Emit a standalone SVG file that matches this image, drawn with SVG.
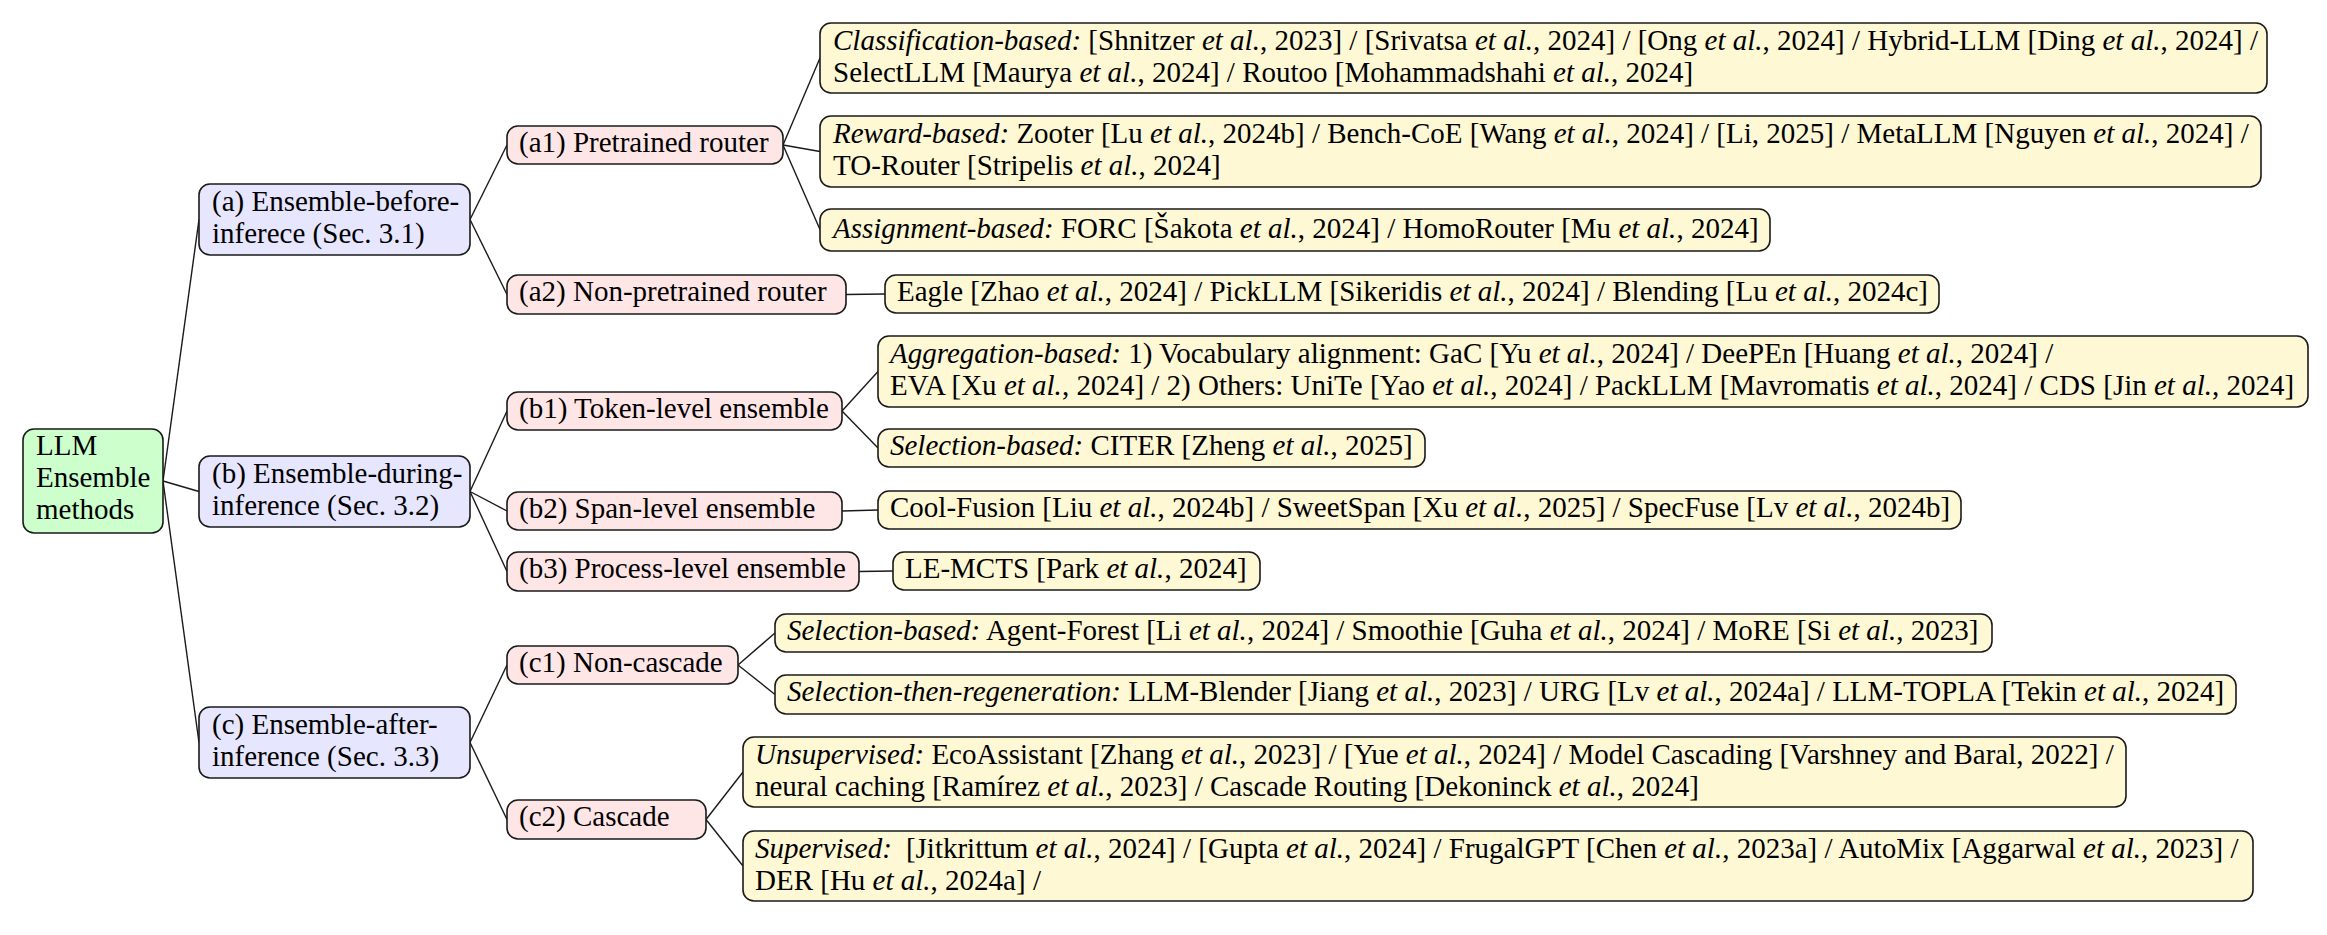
<svg xmlns="http://www.w3.org/2000/svg" width="2327" height="935" viewBox="0 0 2327 935">
  <style>
    text { font-family: "Liberation Serif", "Times New Roman", serif; font-size: 29px; fill: #000; }
    .i { font-style: italic; }
    .box { stroke: #1a1a1a; stroke-width: 1.6; }
    .root { fill: #ccffcc; }
    .cat { fill: #e6e6ff; }
    .sub { fill: #ffe6e6; }
    .leaf { fill: #fff8d5; }
    .edge { fill: none; stroke: #1a1a1a; stroke-width: 1.4; }
  </style>

  <!-- tree edges: parent east anchor to child west anchor -->
  <g id="connectors">
    <path class="edge" d="M163,481 L199,219.5"/>
    <path class="edge" d="M163,481 L199,491.5"/>
    <path class="edge" d="M163,481 L199,742.5"/>
    <path class="edge" d="M470,219.5 L507,145"/>
    <path class="edge" d="M470,219.5 L507,294.5"/>
    <path class="edge" d="M783,145 L820,58"/>
    <path class="edge" d="M783,145 L820,151.5"/>
    <path class="edge" d="M783,145 L820,229.5"/>
    <path class="edge" d="M846,294.5 L885,294"/>
    <path class="edge" d="M470,491.5 L507,411"/>
    <path class="edge" d="M470,491.5 L507,511"/>
    <path class="edge" d="M470,491.5 L507,571.5"/>
    <path class="edge" d="M842,411 L878,371.5"/>
    <path class="edge" d="M842,411 L878,448"/>
    <path class="edge" d="M842,511 L878,510"/>
    <path class="edge" d="M859,571.5 L893,571"/>
    <path class="edge" d="M470,742.5 L507,665"/>
    <path class="edge" d="M470,742.5 L507,819.5"/>
    <path class="edge" d="M738,665 L775,633"/>
    <path class="edge" d="M738,665 L775,694.5"/>
    <path class="edge" d="M706,819.5 L743,772"/>
    <path class="edge" d="M706,819.5 L743,866"/>
  </g>

  <!-- root -->
  <g id="root">
    <rect class="box root" x="23" y="429" width="140" height="104" rx="11"/>
    <text x="36" y="455">LLM</text>
    <text x="36" y="487">Ensemble</text>
    <text x="36" y="519">methods</text>
  </g>

  <!-- first level -->
  <g id="node-a">
    <rect class="box cat" x="199" y="184" width="271" height="71" rx="11"/>
    <text x="212" y="211">(a) Ensemble-before-</text>
    <text x="212" y="243">inferece (Sec. 3.1)</text>
  </g>
  <g id="node-b">
    <rect class="box cat" x="199" y="456" width="271" height="71" rx="11"/>
    <text x="212" y="483">(b) Ensemble-during-</text>
    <text x="212" y="515">inference (Sec. 3.2)</text>
  </g>
  <g id="node-c">
    <rect class="box cat" x="199" y="707" width="271" height="71" rx="11"/>
    <text x="212" y="734">(c) Ensemble-after-</text>
    <text x="212" y="766">inference (Sec. 3.3)</text>
  </g>

  <!-- second level -->
  <g id="node-a1">
    <rect class="box sub" x="507" y="126" width="276" height="38" rx="11"/>
    <text x="519" y="152">(a1) Pretrained router</text>
  </g>
  <g id="node-a2">
    <rect class="box sub" x="507" y="275" width="339" height="39" rx="11"/>
    <text x="519" y="301">(a2) Non-pretrained router</text>
  </g>
  <g id="node-b1">
    <rect class="box sub" x="507" y="392" width="335" height="38" rx="11"/>
    <text x="519" y="418">(b1) Token-level ensemble</text>
  </g>
  <g id="node-b2">
    <rect class="box sub" x="507" y="492" width="335" height="38" rx="11"/>
    <text x="519" y="518">(b2) Span-level ensemble</text>
  </g>
  <g id="node-b3">
    <rect class="box sub" x="507" y="552" width="352" height="39" rx="11"/>
    <text x="519" y="578">(b3) Process-level ensemble</text>
  </g>
  <g id="node-c1">
    <rect class="box sub" x="507" y="646" width="231" height="38" rx="11"/>
    <text x="519" y="672">(c1) Non-cascade</text>
  </g>
  <g id="node-c2">
    <rect class="box sub" x="507" y="800" width="199" height="39" rx="11"/>
    <text x="519" y="826">(c2) Cascade</text>
  </g>

  <!-- leaves -->
  <g id="leaf-classification">
    <rect class="box leaf" x="820" y="23" width="1447" height="70" rx="11"/>
    <text x="833" y="50"><tspan class="i">Classification-based:</tspan> [Shnitzer <tspan class="i">et al.</tspan>, 2023] / [Srivatsa <tspan class="i">et al.</tspan>, 2024] / [Ong <tspan class="i">et al.</tspan>, 2024] / Hybrid-LLM [Ding <tspan class="i">et al.</tspan>, 2024] /</text>
    <text x="833" y="82">SelectLLM [Maurya <tspan class="i">et al.</tspan>, 2024] / Routoo [Mohammadshahi <tspan class="i">et al.</tspan>, 2024]</text>
  </g>
  <g id="leaf-reward">
    <rect class="box leaf" x="820" y="116" width="1441" height="71" rx="11"/>
    <text x="833" y="143"><tspan class="i">Reward-based:</tspan> Zooter [Lu <tspan class="i">et al.</tspan>, 2024b] / Bench-CoE [Wang <tspan class="i">et al.</tspan>, 2024] / [Li, 2025] / MetaLLM [Nguyen <tspan class="i">et al.</tspan>, 2024] /</text>
    <text x="833" y="175">TO-Router [Stripelis <tspan class="i">et al.</tspan>, 2024]</text>
  </g>
  <g id="leaf-assignment">
    <rect class="box leaf" x="820" y="209" width="950" height="42" rx="11"/>
    <text x="833" y="238"><tspan class="i">Assignment-based:</tspan> FORC [Šakota <tspan class="i">et al.</tspan>, 2024] / HomoRouter [Mu <tspan class="i">et al.</tspan>, 2024]</text>
  </g>
  <g id="leaf-nonpretrained">
    <rect class="box leaf" x="885" y="275" width="1054" height="38" rx="11"/>
    <text x="897" y="301">Eagle [Zhao <tspan class="i">et al.</tspan>, 2024] / PickLLM [Sikeridis <tspan class="i">et al.</tspan>, 2024] / Blending [Lu <tspan class="i">et al.</tspan>, 2024c]</text>
  </g>
  <g id="leaf-aggregation">
    <rect class="box leaf" x="878" y="336" width="1430" height="71" rx="11"/>
    <text x="890" y="363"><tspan class="i">Aggregation-based:</tspan> 1) Vocabulary alignment: GaC [Yu <tspan class="i">et al.</tspan>, 2024] / DeePEn [Huang <tspan class="i">et al.</tspan>, 2024] /</text>
    <text x="890" y="395">EVA [Xu <tspan class="i">et al.</tspan>, 2024] / 2) Others: UniTe [Yao <tspan class="i">et al.</tspan>, 2024] / PackLLM [Mavromatis <tspan class="i">et al.</tspan>, 2024] / CDS [Jin <tspan class="i">et al.</tspan>, 2024]</text>
  </g>
  <g id="leaf-token-selection">
    <rect class="box leaf" x="878" y="429" width="547" height="38" rx="11"/>
    <text x="890" y="455"><tspan class="i">Selection-based:</tspan> CITER [Zheng <tspan class="i">et al.</tspan>, 2025]</text>
  </g>
  <g id="leaf-span">
    <rect class="box leaf" x="878" y="491" width="1083" height="38" rx="11"/>
    <text x="890" y="517">Cool-Fusion [Liu <tspan class="i">et al.</tspan>, 2024b] / SweetSpan [Xu <tspan class="i">et al.</tspan>, 2025] / SpecFuse [Lv <tspan class="i">et al.</tspan>, 2024b]</text>
  </g>
  <g id="leaf-process">
    <rect class="box leaf" x="893" y="552" width="367" height="38" rx="11"/>
    <text x="905" y="578">LE-MCTS [Park <tspan class="i">et al.</tspan>, 2024]</text>
  </g>
  <g id="leaf-selection">
    <rect class="box leaf" x="775" y="614" width="1217" height="38" rx="11"/>
    <text x="787" y="640"><tspan class="i">Selection-based:</tspan> Agent-Forest [Li <tspan class="i">et al.</tspan>, 2024] / Smoothie [Guha <tspan class="i">et al.</tspan>, 2024] / MoRE [Si <tspan class="i">et al.</tspan>, 2023]</text>
  </g>
  <g id="leaf-regeneration">
    <rect class="box leaf" x="775" y="675" width="1461" height="39" rx="11"/>
    <text x="787" y="701"><tspan class="i">Selection-then-regeneration:</tspan> LLM-Blender [Jiang <tspan class="i">et al.</tspan>, 2023] / URG [Lv <tspan class="i">et al.</tspan>, 2024a] / LLM-TOPLA [Tekin <tspan class="i">et al.</tspan>, 2024]</text>
  </g>
  <g id="leaf-unsupervised">
    <rect class="box leaf" x="743" y="737" width="1383" height="70" rx="11"/>
    <text x="755" y="764"><tspan class="i">Unsupervised:</tspan> EcoAssistant [Zhang <tspan class="i">et al.</tspan>, 2023] / [Yue <tspan class="i">et al.</tspan>, 2024] / Model Cascading [Varshney and Baral, 2022] /</text>
    <text x="755" y="796">neural caching [Ramírez <tspan class="i">et al.</tspan>, 2023] / Cascade Routing [Dekoninck <tspan class="i">et al.</tspan>, 2024]</text>
  </g>
  <g id="leaf-supervised">
    <rect class="box leaf" x="743" y="831" width="1510" height="70" rx="11"/>
    <text x="755" y="858"><tspan class="i">Supervised:</tspan><tspan dx="14">[Jitkrittum </tspan><tspan class="i">et al.</tspan>, 2024] / [Gupta <tspan class="i">et al.</tspan>, 2024] / FrugalGPT [Chen <tspan class="i">et al.</tspan>, 2023a] / AutoMix [Aggarwal <tspan class="i">et al.</tspan>, 2023] /</text>
    <text x="755" y="890">DER [Hu <tspan class="i">et al.</tspan>, 2024a] /</text>
  </g>
</svg>
